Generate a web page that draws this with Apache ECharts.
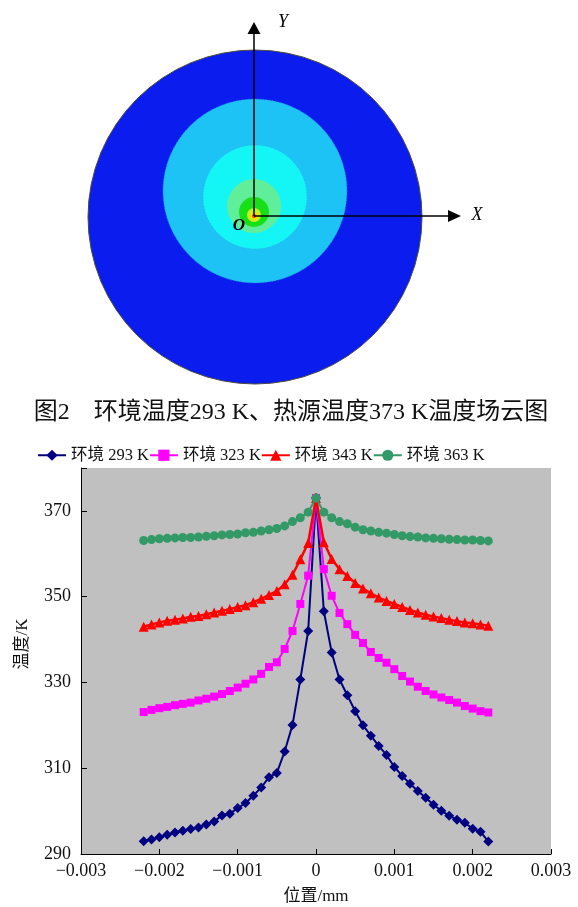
<!DOCTYPE html>
<html>
<head>
<meta charset="utf-8">
<script src="https://cdn.jsdelivr.net/npm/echarts@6/dist/echarts.min.js"></script>
<style>
html,body{margin:0;padding:0;background:#fff;}
#chart{width:578px;height:907px;}
</style>
</head>
<body>
<div id="chart"></div>
<script>
// ---- data ----
const positions = [-0.0022,-0.0021,-0.0020,-0.0019,-0.0018,-0.0017,-0.0016,-0.0015,-0.0014,-0.0013,-0.0012,-0.0011,-0.0010,-0.0009,-0.0008,-0.0007,-0.0006,-0.0005,-0.0004,-0.0003,-0.0002,-0.0001,
  0,
  0.0001,0.0002,0.0003,0.0004,0.0005,0.0006,0.0007,0.0008,0.0009,0.0010,0.0011,0.0012,0.0013,0.0014,0.0015,0.0016,0.0017,0.0018,0.0019,0.0020,0.0021,0.0022];

const t293 = [293.0,293.4,293.9,294.5,295.0,295.4,295.8,296.2,296.9,297.6,299.0,299.4,300.7,301.9,303.6,305.5,307.9,308.9,313.9,320.1,330.7,342.0,
  373.0,
  346.6,337.0,330.7,327.0,323.3,320.0,317.6,315.2,313.1,310.3,308.2,306.4,304.7,303.1,301.5,300.1,298.9,298.0,297.3,295.9,295.2,292.9];

const t323 = [323.1,323.6,324.0,324.3,324.7,325.0,325.3,325.8,326.2,326.7,327.3,328.0,328.8,329.7,330.7,332.0,333.6,334.7,337.8,342.0,348.3,354.9,
  373.0,
  356.4,350.2,346.2,343.6,341.1,339.2,337.1,335.7,334.6,333.1,331.5,330.2,329.0,328.0,327.2,326.5,325.9,325.3,324.5,323.9,323.3,323.0];

const t343 = [343.0,343.5,344.0,344.4,344.6,344.9,345.3,345.5,345.9,346.3,346.7,347.1,347.6,348.0,348.7,349.5,350.4,351.3,352.9,355.1,358.7,362.5,
  373.0,
  362.7,358.8,356.4,354.8,353.2,351.9,350.8,349.8,349.0,348.3,347.6,346.9,346.3,345.8,345.4,345.0,344.6,344.3,344.0,343.8,343.5,343.2];

const t363 = [363.1,363.3,363.5,363.6,363.7,363.8,363.8,363.9,364.1,364.2,364.4,364.5,364.6,364.9,365.0,365.3,365.6,365.9,366.5,367.5,368.4,369.7,
  373.0,
  369.7,368.4,367.5,367.0,366.2,365.6,365.3,365.0,364.8,364.5,364.2,364.0,363.9,363.7,363.6,363.5,363.4,363.3,363.2,363.2,363.1,363.0];

const seriesNames = ['环境 293 K','环境 323 K','环境 343 K','环境 363 K'];
const captionText = '图2\u3000环境温度293 K、热源温度373 K温度场云图';
const xAxisName = '位置/mm';
const yAxisName = '温度/K';

// ---- chart ----
const FONT = "'Liberation Serif','Noto Sans CJK SC',serif";
const chart = echarts.init(document.getElementById('chart'), null, {renderer:'canvas'});

function pairs(vals){ return positions.map((x,i)=>[x, vals[i]]); }

const styles = [
  {color:'#000080', symbol:'diamond', size:10, width:2},
  {color:'#ff00ff', symbol:'rect', size:8, width:2},
  {color:'#ff0000', symbol:'triangle', size:10, width:2.5},
  {color:'#339966', symbol:'circle', size:9, width:2}
];
const allVals = [t293,t323,t343,t363];

const series = allVals.map((vals,k)=>({
  name: seriesNames[k],
  type:'line',
  data: pairs(vals),
  symbol: styles[k].symbol,
  symbolSize: styles[k].size,
  showAllSymbol: true,
  lineStyle:{color:styles[k].color, width:styles[k].width},
  itemStyle:{color:styles[k].color},
  animation:false,
  z: 2 + k
}));

// contour illustration (decorative graphic)
const graphic = [
  {type:'circle', shape:{cx:255, cy:217, r:167}, style:{fill:'#0a1cee', stroke:'#4a4a3a', lineWidth:1}},
  {type:'circle', shape:{cx:255, cy:191, r:92}, style:{fill:'#1ec3f5', stroke:'#2a8ae8', lineWidth:1, lineDash:[1,2]}},
  {type:'circle', shape:{cx:255, cy:197, r:52}, style:{fill:'#14f5f5', stroke:'#30b0e8', lineWidth:1, lineDash:[1,2]}},
  {type:'circle', shape:{cx:254, cy:206, r:27}, style:{fill:'#60ee9a'}},
  {type:'circle', shape:{cx:254, cy:212, r:15}, style:{fill:'#18e018'}},
  {type:'circle', shape:{cx:254, cy:215, r:7}, style:{fill:'#c8f020'}},
  {type:'circle', shape:{cx:254, cy:216, r:4}, style:{fill:'#f0e000'}},
  {type:'circle', shape:{cx:254, cy:216, r:2}, style:{fill:'#ff4000'}},
  // axes
  {type:'line', shape:{x1:254, y1:216, x2:254, y2:32}, style:{stroke:'#000', lineWidth:1.5}},
  {type:'polygon', shape:{points:[[254,22],[247.5,34],[260.5,34]]}, style:{fill:'#000'}},
  {type:'line', shape:{x1:254, y1:216, x2:450, y2:216}, style:{stroke:'#000', lineWidth:1.5}},
  {type:'polygon', shape:{points:[[461,216],[448,210],[448,222]]}, style:{fill:'#000'}},
  {type:'text', x:283, y:22, style:{text:'Y', font:"italic 18px 'Liberation Serif'", fill:'#000', textAlign:'center', textVerticalAlign:'middle'}},
  {type:'text', x:477, y:215, style:{text:'X', font:"italic 18px 'Liberation Serif'", fill:'#000', textAlign:'center', textVerticalAlign:'middle'}},
  {type:'text', x:239, y:226, style:{text:'O', font:"italic bold 17px 'Liberation Serif'", fill:'#000', textAlign:'center', textVerticalAlign:'middle'}},
  // caption
  {type:'text', x:291, y:413, style:{text:captionText, font:"24px " + FONT, fill:'#111', textAlign:'center', textVerticalAlign:'middle'}}
];

function fmtX(v){
  if (Math.abs(v) < 1e-12) return '0';
  const s = Math.abs(v).toFixed(3);
  return (v < 0 ? '\u2212' : '') + s;
}

const option = {
  backgroundColor:'#ffffff',
  animation:false,
  textStyle:{fontFamily:FONT},
  graphic: graphic,
  legend:{
    data: seriesNames,
    left: 32, top: 442,
    itemWidth: 28, itemHeight: 14, itemGap: 0,
    textStyle:{fontFamily:FONT, fontSize:16.5, color:'#111'},
    selectedMode:false
  },
  grid:{left:81, right:27, top:468, bottom:53, show:true, backgroundColor:'#c0c0c0', borderWidth:0},
  xAxis:{
    type:'value', min:-0.003, max:0.003, interval:0.001,
    name: xAxisName, nameLocation:'middle', nameGap:34,
    nameTextStyle:{fontFamily:FONT, fontSize:17, color:'#111'},
    axisLine:{show:true, onZero:false, lineStyle:{color:'#000', width:1}},
    axisTick:{show:true, inside:true, length:5, lineStyle:{color:'#000'}},
    axisLabel:{formatter:fmtX, fontFamily:FONT, fontSize:18, color:'#111', margin:8},
    splitLine:{show:false}
  },
  yAxis:{
    type:'value', min:290, max:380, interval:20,
    name: yAxisName, nameLocation:'middle', nameGap:50, nameRotate:90,
    nameTextStyle:{fontFamily:FONT, fontSize:17, color:'#111', padding:[0,0,0,34]},
    axisLine:{show:true, onZero:false, lineStyle:{color:'#000', width:1}},
    axisTick:{show:true, inside:true, length:6, lineStyle:{color:'#000'}},
    axisLabel:{fontFamily:FONT, fontSize:18, color:'#111', margin:10,
      formatter:function(v){ return v > 375 ? '' : String(v); }},
    splitLine:{show:false}
  },
  series: series
};
chart.setOption(option);
</script>
</body>
</html>
